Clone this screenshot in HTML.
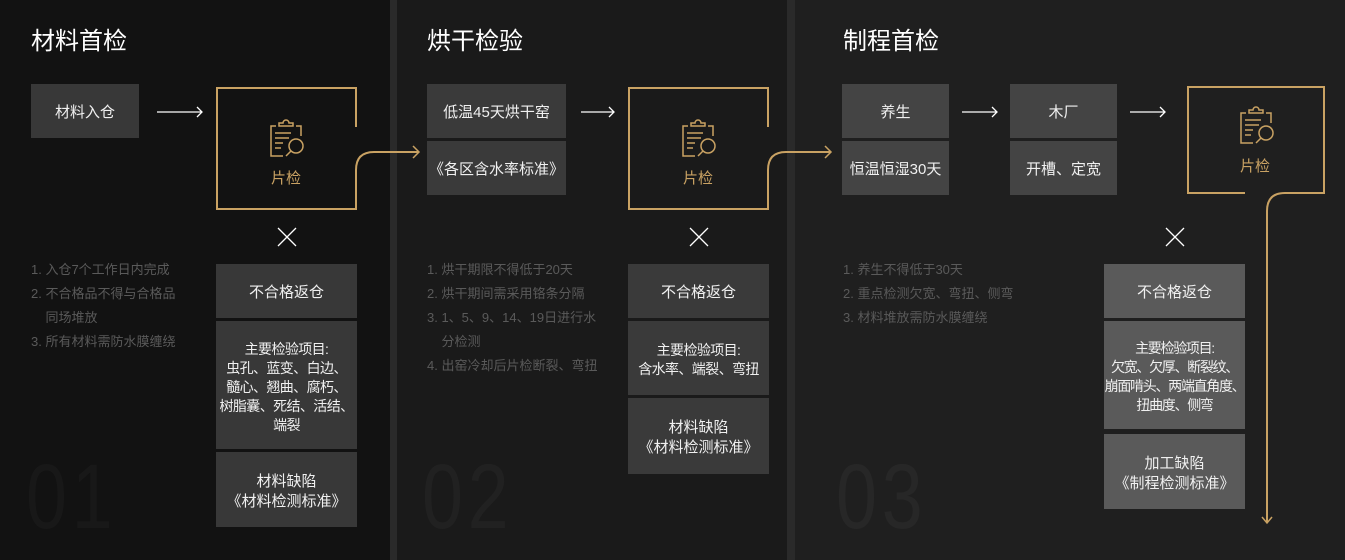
<!DOCTYPE html>
<html><head><meta charset="utf-8"><style>
*{margin:0;padding:0;box-sizing:border-box}
body{width:1345px;height:560px;overflow:hidden;background:#1f1f1f;font-family:"Liberation Sans","Noto Sans CJK SC",sans-serif;position:relative}
.a{position:absolute}
.bx{position:absolute;color:#f0f0f0;font-size:15px;display:flex;align-items:center;justify-content:center;text-align:center;line-height:20px;padding-top:4px}
.t{position:absolute;color:#fff;font-size:24px;line-height:30px}
.n{position:absolute;color:#5a5a5a;font-size:13px;line-height:24px}
.big{position:absolute;font-size:92px;font-weight:100;line-height:94px;letter-spacing:6px;transform:scaleX(0.8);transform-origin:0 0}
.sm{font-size:14px;line-height:19px;letter-spacing:-0.6px}
.gl{position:absolute;color:#c9a263;font-size:15px}
</style></head><body>
<div class="a" style="left:0;top:0;width:390px;height:560px;background:#121212"></div>
<div class="a" style="left:390px;top:0;width:7px;height:560px;background:#2a2a2a"></div>
<div class="a" style="left:397px;top:0;width:390px;height:560px;background:#1a1a1a"></div>
<div class="a" style="left:787px;top:0;width:8px;height:560px;background:#2a2a2a"></div>

<div class="big" style="left:26px;top:450px;color:#181818">01</div>
<div class="big" style="left:422px;top:450px;color:#212121">02</div>
<div class="big" style="left:836px;top:450px;color:#272727">03</div>

<div class="t" style="left:31px;top:27px">材料首检</div>
<div class="t" style="left:427px;top:27px">烘干检验</div>
<div class="t" style="left:843px;top:27px">制程首检</div>

<!-- panel1 -->
<div class="bx" style="left:31px;top:84px;width:108px;height:54px;background:#383838">材料入仓</div>
<div class="bx" style="left:216px;top:264px;width:141px;height:54px;background:#383838">不合格返仓</div>
<div class="bx sm" style="left:216px;top:321px;width:141px;height:128px;background:#383838">主要检验项目:<br>虫孔、蓝变、白边、<br>髓心、翘曲、腐朽、<br>树脂囊、死结、活结、<br>端裂</div>
<div class="bx" style="left:216px;top:452px;width:141px;height:75px;background:#383838">材料缺陷<br>《材料检测标准》</div>
<div class="n" style="left:31px;top:258px">1. 入仓7个工作日内完成<br>2. 不合格品不得与合格品<br>&nbsp;&nbsp;&nbsp;&nbsp;同场堆放<br>3. 所有材料需防水膜缠绕</div>

<!-- panel2 -->
<div class="bx" style="left:427px;top:84px;width:139px;height:54px;background:#3a3a3a">低温45天烘干窑</div>
<div class="bx" style="left:427px;top:141px;width:139px;height:54px;background:#3a3a3a">《各区含水率标准》</div>
<div class="bx" style="left:628px;top:264px;width:141px;height:54px;background:#3a3a3a">不合格返仓</div>
<div class="bx sm" style="left:628px;top:321px;width:141px;height:74px;background:#3a3a3a">主要检验项目:<br>含水率、端裂、弯扭</div>
<div class="bx" style="left:628px;top:398px;width:141px;height:76px;background:#3a3a3a">材料缺陷<br>《材料检测标准》</div>
<div class="n" style="left:427px;top:258px">1. 烘干期限不得低于20天<br>2. 烘干期间需采用铬条分隔<br>3. 1、5、9、14、19日进行水<br>&nbsp;&nbsp;&nbsp;&nbsp;分检测<br>4. 出窑冷却后片检断裂、弯扭</div>

<!-- panel3 -->
<div class="bx" style="left:842px;top:84px;width:107px;height:54px;background:#444">养生</div>
<div class="bx" style="left:842px;top:141px;width:107px;height:54px;background:#444">恒温恒湿30天</div>
<div class="bx" style="left:1010px;top:84px;width:107px;height:54px;background:#444">木厂</div>
<div class="bx" style="left:1010px;top:141px;width:107px;height:54px;background:#444">开槽、定宽</div>
<div class="bx" style="left:1104px;top:264px;width:141px;height:54px;background:#5a5a5a">不合格返仓</div>
<div class="bx sm" style="left:1104px;top:321px;width:141px;height:108px;background:#5a5a5a;letter-spacing:-1.3px;white-space:nowrap">主要检验项目:<br>欠宽、欠厚、断裂纹、<br>崩面啃头、两端直角度、<br>扭曲度、侧弯</div>
<div class="bx" style="left:1104px;top:434px;width:141px;height:75px;background:#5a5a5a">加工缺陷<br>《制程检测标准》</div>
<div class="n" style="left:843px;top:258px">1. 养生不得低于30天<br>2. 重点检测欠宽、弯扭、侧弯<br>3. 材料堆放需防水膜缠绕</div>

<div class="gl" style="left:271px;top:167px">片检</div>
<div class="gl" style="left:683px;top:167px">片检</div>
<div class="gl" style="left:1240px;top:155px">片检</div>

<svg class="a" style="left:0;top:0" width="1345" height="560" fill="none">
<defs>
<g id="ic" stroke="#c9a263" stroke-width="1.5" fill="none">
<path d="M-10,-14 h-5 v30 h12 M10,-14 h5 v10"/>
<path d="M-7,-14 v-3 h4 a3,3 0 0 1 6,0 h4 v3 z"/>
<path d="M-11,-7 h16 M-11,-2 h14 M-11,3 h8 M-11,8 h6"/>
<circle cx="10" cy="6" r="7"/>
<path d="M5,11 l-5,5"/>
</g>
</defs>
<g stroke="#fff" stroke-width="1.3">
<path d="M157,112 H202 M197,107 L202,112 L197,117"/>
<path d="M581,112 H614 M609,107 L614,112 L609,117"/>
<path d="M962,112 H997 M992,107 L997,112 L992,117"/>
<path d="M1130,112 H1165 M1160,107 L1165,112 L1160,117"/>
<path d="M278,228 L296,246 M296,228 L278,246"/>
<path d="M690,228 L708,246 M708,228 L690,246"/>
<path d="M1166,228 L1184,246 M1184,228 L1166,246"/>
</g>
<g stroke="#c9a263" stroke-width="2">
<path d="M356,127 V88 H217 V209 H356 V170 Q356,152 374,152 H419"/>
<path d="M413,146 L419,152 L413,158" stroke-width="1.5"/>
<path d="M768,127 V88 H629 V209 H768 V170 Q768,152 786,152 H831"/>
<path d="M825,146 L831,152 L825,158" stroke-width="1.5"/>
<path d="M1245,193 H1188 V87 H1324 V193 H1285 Q1267,193 1267,211 V523"/>
<path d="M1262,517 L1267,523 L1272,517" stroke-width="1.5"/>
</g>
<use href="#ic" x="286" y="140"/>
<use href="#ic" x="698" y="140"/>
<use href="#ic" x="1256" y="127"/>
</svg>
</body></html>
